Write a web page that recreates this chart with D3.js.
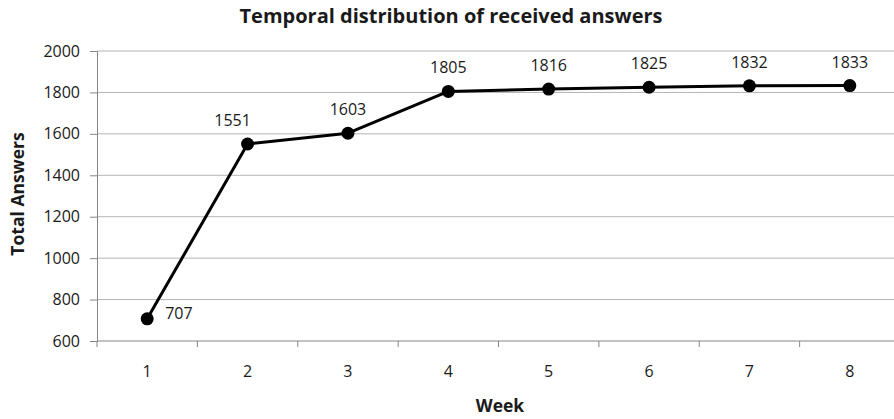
<!DOCTYPE html>
<html>
<head>
<meta charset="utf-8">
<script src="https://cdn.jsdelivr.net/npm/d3@7"></script>
<style>
  body { margin: 0; background: #fff; }
  text { font-family: "Open Sans", sans-serif; fill: #1a1a1a; }
</style>
</head>
<body>
<svg id="chart" width="894" height="419"></svg>
<script>
// data
const weeks = ["1", "2", "3", "4", "5", "6", "7", "8"];
const totals = [707, 1551, 1603, 1805, 1816, 1825, 1832, 1833];
const yTicks = [600, 800, 1000, 1200, 1400, 1600, 1800, 2000];

const svg = d3.select("#chart");
const plotLeft = 97, plotRight = 900, plotTop = 51, plotBottom = 341;

const x = d3.scaleBand().domain(weeks).range([plotLeft, plotRight]).padding(0);
const y = d3.scaleLinear().domain([600, 2000]).range([plotBottom, plotTop]);

// gridlines
svg.append("g")
    .selectAll("line")
    .data(yTicks.filter(d => d !== 600))
    .join("line")
    .attr("x1", plotLeft).attr("x2", 894)
    .attr("y1", d => y(d)).attr("y2", d => y(d))
    .attr("stroke", "#b4b4b4")
    .attr("stroke-width", 1);

// y axis
const yAxis = svg.append("g")
    .attr("transform", `translate(${plotLeft},0)`)
    .call(d3.axisLeft(y).tickValues(yTicks).tickSize(7).tickPadding(10).tickFormat(d3.format("d")));
yAxis.selectAll("line, path").attr("stroke", "#868686");
yAxis.selectAll("text").style("font-size", "16px").style("font-family", "Open Sans").attr("fill", "#1a1a1a");

// x axis: ticks between categories
const xAxis = svg.append("g").attr("transform", `translate(0,${plotBottom})`);
xAxis.append("line")
    .attr("x1", plotLeft).attr("x2", 894)
    .attr("stroke", "#868686");
const bounds = weeks.map(w => x(w)).concat([plotRight]);
xAxis.selectAll("line.tick")
    .data(bounds)
    .join("line")
    .attr("class", "tick")
    .attr("x1", d => d).attr("x2", d => d)
    .attr("y1", 0).attr("y2", 6)
    .attr("stroke", "#868686");
xAxis.selectAll("text")
    .data(weeks)
    .join("text")
    .attr("x", d => x(d) + x.bandwidth() / 2)
    .attr("y", 36)
    .attr("text-anchor", "middle")
    .style("font-size", "16px")
    .text(d => d);

// line + markers
const pts = weeks.map((w, i) => ({ w, v: totals[i] }));
const cx = d => x(d.w) + x.bandwidth() / 2;

svg.append("path")
    .datum(pts)
    .attr("fill", "none")
    .attr("stroke", "#000")
    .attr("stroke-width", 3)
    .attr("stroke-linejoin", "round")
    .attr("d", d3.line().x(cx).y(d => y(d.v)));

svg.append("g")
    .selectAll("circle")
    .data(pts)
    .join("circle")
    .attr("cx", cx)
    .attr("cy", d => y(d.v))
    .attr("r", 6.5)
    .attr("fill", "#000");

// data labels
svg.append("g")
    .selectAll("text")
    .data(pts)
    .join("text")
    .attr("x", (d, i) => i === 0 ? cx(d) + 18 : cx(d) + (i === 1 ? -15 : 0))
    .attr("y", (d, i) => i === 0 ? y(d.v) + 0 : y(d.v) - 18)
    .attr("text-anchor", (d, i) => i === 0 ? "start" : "middle")
    .style("font-size", "16px")
    .text(d => d.v);

// titles
svg.append("text")
    .attr("x", 451).attr("y", 23)
    .attr("text-anchor", "middle")
    .style("font-size", "20px")
    .style("font-weight", "bold")
    .attr("fill", "#000")
    .text("Temporal distribution of received answers");

svg.append("text")
    .attr("transform", "translate(24,194) rotate(-90)")
    .attr("text-anchor", "middle")
    .style("font-size", "17.5px")
    .style("font-weight", "bold")
    .attr("fill", "#000")
    .text("Total Answers");

svg.append("text")
    .attr("x", 500).attr("y", 412)
    .attr("text-anchor", "middle")
    .style("font-size", "17.5px")
    .style("font-weight", "bold")
    .attr("fill", "#000")
    .text("Week");
</script>
</body>
</html>
